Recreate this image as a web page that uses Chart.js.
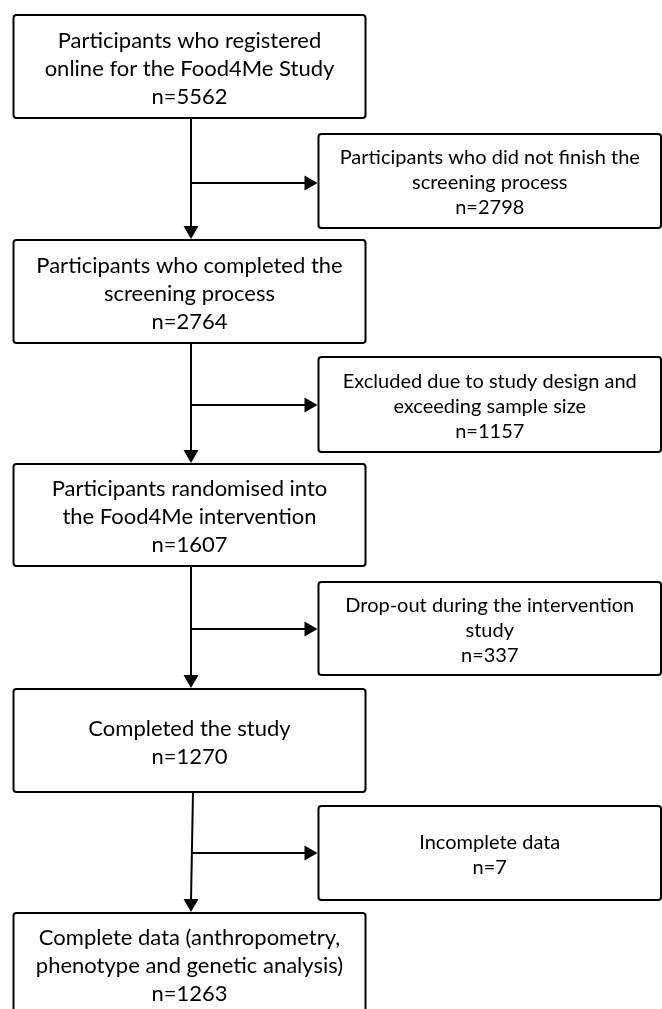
<!DOCTYPE html>
<html>
<head>
<meta charset="utf-8">
<script src="https://cdn.jsdelivr.net/npm/chart.js@4.4.0/dist/chart.umd.min.js"></script>
<style>
html, body { margin: 0; padding: 0; background: #fff; }
#wrap { width: 662px; height: 1009px; }
</style>
</head>
<body>
<div id="wrap"><canvas id="flowChart"></canvas></div>
<script>
// flow steps, top to bottom
const stageText = [
    ['Participants who registered', 'online for the Food4Me Study'],
    ['Participants who completed the', 'screening process'],
    ['Participants randomised into', 'the Food4Me intervention'],
    ['Completed the study'],
    ['Complete data (anthropometry,', 'phenotype and genetic analysis)']
];
const stageN = [5562, 2764, 1607, 1270, 1263];

// side boxes (people leaving between steps)
const exclusionText = [
    ['Participants who did not finish the', 'screening process'],
    ['Excluded due to study design and', 'exceeding sample size'],
    ['Drop-out during the intervention', 'study'],
    ['Incomplete data']
];
const exclusionN = [2798, 1157, 337, 7];

// layout, in page units (x 0-662, y 0-1009 from the top)
const mainLeft = 13.5, mainRight = 365.5;
const mainTop = [15, 240, 464, 689, 913];
const mainBottom = [118, 343, 566, 792, 1015];
const sideLeft = 318.5, sideRight = 661;
const sideTop = [134, 357, 582, 806];
const sideBottom = [228, 452, 675, 900];
const branchY = [183, 405, 629, 853];
const stemTopX = [191, 191, 191, 193];
const stemX = 191;

const arrowLen = 13;
const arrowHalf = 7.5;
const inkColor = '#000000';
const mainStyle = { font: '22px Lato, "Open Sans", sans-serif', gap: 28, shift: 2 };
const sideStyle = { font: '20px Lato, "Open Sans", sans-serif', gap: 25, shift: 2 };

function stemXAt(i, y) {
    const t = (y - mainBottom[i]) / (mainTop[i + 1] - mainBottom[i]);
    return stemTopX[i] + (stemX - stemTopX[i]) * t;
}

// connector lines as line datasets
const connectorSets = [];
for (let i = 0; i < exclusionN.length; i++) {
    connectorSets.push({
        data: [{ x: stemTopX[i], y: mainBottom[i] }, { x: stemX, y: mainTop[i + 1] - arrowLen + 1 }]
    });
    connectorSets.push({
        data: [{ x: stemXAt(i, branchY[i]), y: branchY[i] }, { x: sideLeft - arrowLen + 1, y: branchY[i] }]
    });
}
connectorSets.forEach(ds => {
    ds.showLine = true;
    ds.borderColor = inkColor;
    ds.borderWidth = 2;
    ds.pointRadius = 0;
    ds.tension = 0;
});

function drawBox(ctx, sx, sy, x0, y0, x1, y1, lines, style) {
    const left = sx.getPixelForValue(x0), right = sx.getPixelForValue(x1);
    const top = sy.getPixelForValue(y0), bottom = sy.getPixelForValue(y1);
    ctx.beginPath();
    ctx.roundRect(left, top, right - left, bottom - top, 3);
    ctx.fillStyle = '#ffffff';
    ctx.fill();
    ctx.lineWidth = 2;
    ctx.strokeStyle = inkColor;
    ctx.stroke();

    ctx.fillStyle = inkColor;
    ctx.font = style.font;
    ctx.textAlign = 'center';
    ctx.textBaseline = 'middle';
    const cx = (left + right) / 2;
    const cy = (top + bottom) / 2 + style.shift;
    const start = cy - (lines.length - 1) * style.gap / 2;
    lines.forEach((txt, k) => ctx.fillText(txt, cx, start + k * style.gap));
}

const flowPlugin = {
    id: 'flowBoxes',
    afterDatasetsDraw(chart) {
        const ctx = chart.ctx;
        const sx = chart.scales.x, sy = chart.scales.y;
        ctx.save();

        // arrowheads
        ctx.fillStyle = inkColor;
        for (let i = 0; i < exclusionN.length; i++) {
            const dx = sx.getPixelForValue(stemX), dy = sy.getPixelForValue(mainTop[i + 1]) - 1;
            ctx.beginPath();
            ctx.moveTo(dx, dy);
            ctx.lineTo(dx - arrowHalf, dy - arrowLen);
            ctx.lineTo(dx + arrowHalf, dy - arrowLen);
            ctx.closePath();
            ctx.fill();

            const rx = sx.getPixelForValue(sideLeft) - 1, ry = sy.getPixelForValue(branchY[i]);
            ctx.beginPath();
            ctx.moveTo(rx, ry);
            ctx.lineTo(rx - arrowLen, ry - arrowHalf);
            ctx.lineTo(rx - arrowLen, ry + arrowHalf);
            ctx.closePath();
            ctx.fill();
        }

        stageText.forEach((lines, i) => {
            drawBox(ctx, sx, sy, mainLeft, mainTop[i], mainRight, mainBottom[i],
                lines.concat(['n=' + stageN[i]]), mainStyle);
        });
        exclusionText.forEach((lines, i) => {
            drawBox(ctx, sx, sy, sideLeft, sideTop[i], sideRight, sideBottom[i],
                lines.concat(['n=' + exclusionN[i]]), sideStyle);
        });
        ctx.restore();
    }
};

new Chart(document.getElementById('flowChart'), {
    type: 'scatter',
    data: { datasets: connectorSets },
    options: {
        responsive: true,
        maintainAspectRatio: false,
        animation: false,
        events: [],
        layout: { padding: 0 },
        scales: {
            x: { type: 'linear', min: 0, max: 662, display: false },
            y: { type: 'linear', min: 0, max: 1009, reverse: true, display: false }
        },
        plugins: {
            legend: { display: false },
            tooltip: { enabled: false }
        }
    },
    plugins: [flowPlugin]
});
</script>
</body>
</html>
